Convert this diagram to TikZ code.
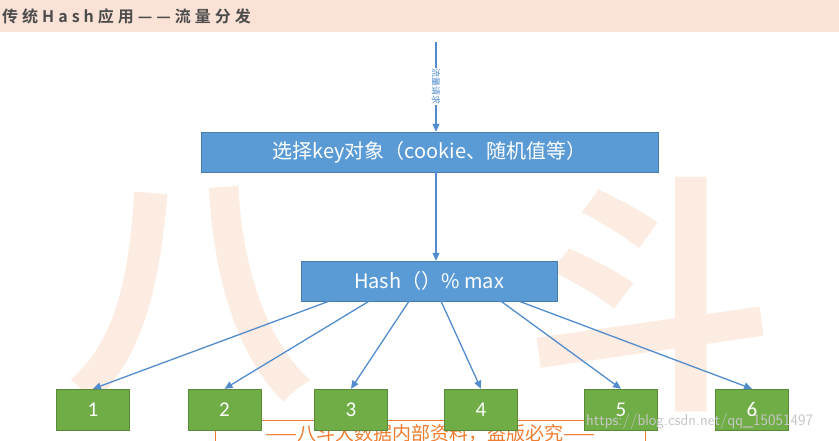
\documentclass[tikz,border=0pt]{standalone}
\usepackage{fontspec}
\setmainfont{Carlito}
\newfontfamily\cjk{Noto Sans CJK SC}
\newfontfamily\cjkb{Noto Sans CJK SC Bold}
\usetikzlibrary{arrows.meta}
\definecolor{peach}{RGB}{250,227,214}
\definecolor{wm}{RGB}{252,236,226}
\definecolor{bbox}{RGB}{91,155,213}
\definecolor{gbox}{RGB}{112,173,71}
\definecolor{conn}{RGB}{82,140,205}
\definecolor{orng}{RGB}{237,125,49}
\begin{document}
\begin{tikzpicture}[x=1pt,y=-1pt,
  blue/.style={fill=bbox,draw=bbox!80!black,line width=0.4pt,text=white,font=\cjk\fontsize{20}{24}\selectfont},
  grn/.style={fill=gbox,draw=gbox!80!black,line width=0.4pt,text=white,minimum width=73pt,minimum height=41pt,font=\fontsize{21}{24}\selectfont},
  arr/.style={draw=conn,line width=1.3pt,-{Triangle[length=8pt,width=7pt]}}]
\useasboundingbox (0,0) rectangle (839,440);
\clip (0,0) rectangle (839,440);
\fill[peach] (0,0) rectangle (839,32);
\node[anchor=west,text=black!70,font=\cjkb\fontsize{16}{18}\selectfont,inner sep=0] (title) at (2,16) {传\hspace{4pt}统\hspace{4pt}H\hspace{4pt}a\hspace{4pt}s\hspace{4pt}h\hspace{4pt}应\hspace{4pt}用\hspace{4pt}—\hspace{4pt}—\hspace{4pt}流\hspace{4pt}量\hspace{4pt}分\hspace{4pt}发};
% watermark
\node[text=wm,font=\cjkb\fontsize{250}{250}\selectfont,inner sep=0] (wa) at (190,295) {八};
\node[text=wm,font=\cjkb\fontsize{250}{250}\selectfont,inner sep=0] (wb) at (650,295) {斗};
\node[blue,minimum width=457pt,minimum height=40pt] (sel) at (429.5,152) {选择key对象（cookie、随机值等）};
\node[blue,minimum width=256pt,minimum height=40pt] (hash) at (429,281) {Hash（）\% max};
\coordinate (top) at (436,42);
\draw[arr] (top) -- node[fill=white,inner sep=0.5pt,rotate=-90,text=conn,font=\cjk\fontsize{9}{10}\selectfont]{流量请求} (sel.north -| top);
\draw[arr] (sel.south -| top) -- (hash.north -| top);
% footer
\draw[orng,line width=0.8pt] (215,450) -- (215,420) -- (645,420) -- (645,450);
\node[text=orng,font=\cjk\itshape\fontsize{19}{22}\selectfont,anchor=north,inner sep=0] (ft) at (430,424) {——八斗大数据内部资料，盗版必究——};
\node[grn] (n1) at (93,409.5) {1};
\node[grn] (n2) at (224.5,409.5) {2};
\node[grn] (n3) at (351,409.5) {3};
\node[grn] (n4) at (481,409.5) {4};
\node[grn] (n5) at (621,409.5) {5};
\node[grn] (n6) at (752,409.5) {6};
\draw[arr] ([xshift=-100pt]hash.south) -- (n1.north);
\draw[arr] ([xshift=-60pt]hash.south) -- (n2.north);
\draw[arr] ([xshift=-20pt]hash.south) -- (n3.north);
\draw[arr] ([xshift=12pt]hash.south) -- (n4.north);
\draw[arr] ([xshift=72pt]hash.south) -- (n5.north);
\draw[arr] ([xshift=90pt]hash.south) -- (n6.north);
\node[text=black!22,font=\sffamily\fontsize{16}{18}\selectfont,anchor=west,inner sep=0] (url) at (586,421) {https://blog.csdn.net/qq\_15051497};
\end{tikzpicture}
\end{document}
